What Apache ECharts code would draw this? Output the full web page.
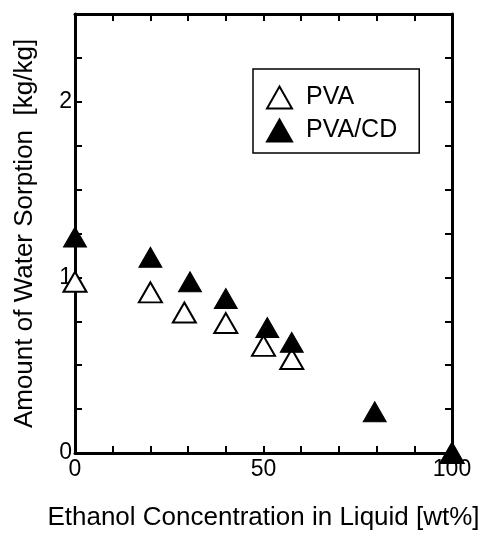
<!DOCTYPE html>
<html><head><meta charset="utf-8">
<script src="https://cdn.jsdelivr.net/npm/echarts@6/dist/echarts.min.js"></script>
<style>html,body{margin:0;padding:0;background:#fff}#c{width:488px;height:540px}</style>
</head><body><div id="c"></div>
<script>
var pvaX = [0, 20, 29, 40, 50, 57.5, 100];
var pvaY = [0.975, 0.915, 0.80, 0.74, 0.61, 0.535, 0.0];
var pvacdX = [0, 20, 30.5, 40, 51, 57.5, 79.5, 100];
var pvacdY = [1.23, 1.115, 0.975, 0.88, 0.715, 0.63, 0.235, 0.0];
var xLabels = [0, 50, 100];
var yLabels = [0, 1, 2];
var xTitle = 'Ethanol Concentration in Liquid [wt%]';
var yTitle = 'Amount of Water Sorption  [kg/kg]';

function zip(a, b) { return a.map(function (v, i) { return [v, b[i]]; }); }
var FONT = '"Liberation Sans", Arial, sans-serif';
var axisLine = { show: true, onZero: false, lineStyle: { color: '#000', width: 3 } };
var tick = { show: true, inside: true, length: 7, lineStyle: { color: '#000', width: 2 } };

var chart = echarts.init(document.getElementById('c'));
chart.setOption({
  animation: false,
  backgroundColor: '#fff',
  grid: { left: 75, right: 36, top: 14, bottom: 87 },
  legend: {
    left: 253, top: 69,
    orient: 'vertical',
    itemWidth: 25, itemHeight: 22, itemGap: 8,
    padding: [16, 22, 10, 13],
    borderColor: '#000', borderWidth: 1.5,
    textStyle: { fontFamily: FONT, fontSize: 25, color: '#000', padding: [0, 0, 0, 9] },
    data: ['PVA', 'PVA/CD']
  },
  xAxis: [{
    type: 'value', min: 0, max: 100, interval: 10,
    axisLine: axisLine, axisTick: tick, splitLine: { show: false },
    axisLabel: { margin: 5, fontFamily: FONT, fontSize: 23, color: '#000',
      formatter: function (v) { return xLabels.indexOf(v) >= 0 ? String(v) : ''; } },
    name: xTitle, nameLocation: 'middle', nameGap: 52,
    nameTextStyle: { fontFamily: FONT, fontSize: 26, color: '#000' }
  }, {
    type: 'value', min: 0, max: 100, interval: 10, position: 'top',
    axisLine: axisLine, axisTick: tick, axisLabel: { show: false }, splitLine: { show: false }
  }],
  yAxis: [{
    type: 'value', min: 0, max: 2.5, interval: 0.25,
    axisLine: axisLine, axisTick: tick, splitLine: { show: false },
    axisLabel: { margin: 3, fontFamily: FONT, fontSize: 23, color: '#000',
      formatter: function (v) { return yLabels.indexOf(v) >= 0 ? String(v) : ''; } },
    name: yTitle, nameLocation: 'middle', nameGap: 37, nameRotate: 90,
    nameTextStyle: { fontFamily: FONT, fontSize: 26, color: '#000' }
  }, {
    type: 'value', min: 0, max: 2.5, interval: 0.25, position: 'right',
    axisLine: axisLine, axisTick: tick, axisLabel: { show: false }, splitLine: { show: false }
  }],
  series: [{
    name: 'PVA', type: 'scatter', symbol: 'triangle', symbolSize: [23, 20],
    clip: false,
    itemStyle: { color: '#fff', borderColor: '#000', borderWidth: 2, opacity: 1 },
    data: zip(pvaX, pvaY), z: 3
  }, {
    name: 'PVA/CD', type: 'scatter', symbol: 'triangle', symbolSize: [23, 20],
    clip: false,
    itemStyle: { color: '#000', borderColor: '#000', borderWidth: 1, opacity: 1 },
    data: zip(pvacdX, pvacdY), z: 4
  }]
});
</script></body></html>
